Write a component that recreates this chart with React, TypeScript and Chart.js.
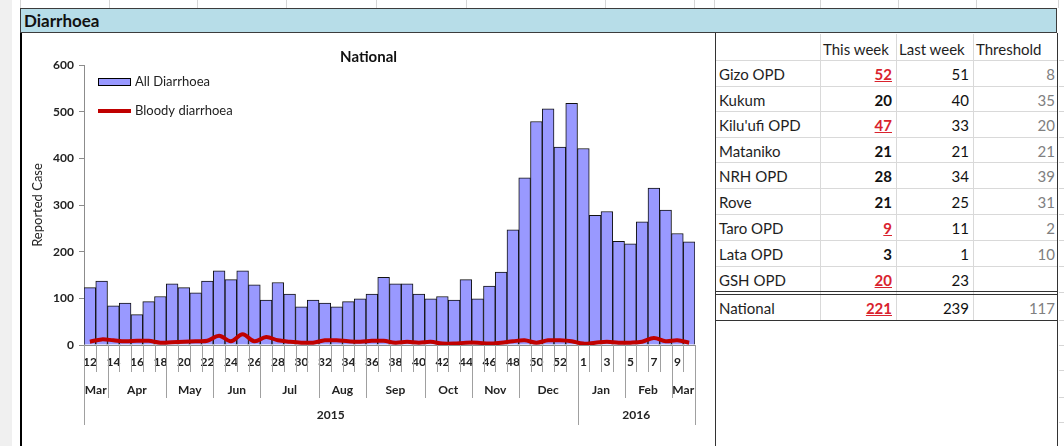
import React, { useEffect, useRef } from 'react';
import { Chart, registerables } from 'chart.js';

Chart.register(...registerables);

// ---------- Chart data ----------
const weekLabels = [
  '12', '13', '14', '15', '16', '17', '18', '19', '20', '21', '22', '23', '24', '25', '26', '27', '28', '29', '30', '31',
  '32', '33', '34', '35', '36', '37', '38', '39', '40', '41', '42', '43', '44', '45', '46', '47', '48', '49', '50', '51',
  '52', '53', '1', '2', '3', '4', '5', '6', '7', '8', '9', '10',
];
const allDiarrhoea = [
  123, 137, 84, 90, 65, 93, 104, 131, 123, 112, 137, 159, 140, 159, 129, 96, 134, 109, 82, 96,
  90, 82, 93, 99, 109, 145, 131, 131, 109, 99, 104, 96, 140, 99, 126, 156, 247, 358, 479, 506,
  424, 518, 421, 278, 286, 222, 217, 264, 336, 289, 239, 221,
];
const bloodyDiarrhoea = [
  7, 12, 10, 8, 9, 9, 5, 6, 7, 8, 9, 20, 8, 23, 8, 17, 10, 7, 5, 5,
  10, 10, 8, 7, 9, 9, 5, 7, 5, 7, 3, 3, 5, 5, 3, 5, 8, 10, 5, 10,
  10, 8, 3, 5, 7, 5, 5, 7, 15, 8, 10, 5,
];
const monthLabels = ['Mar', 'Apr', 'May', 'Jun', 'Jul', 'Aug', 'Sep', 'Oct', 'Nov', 'Dec', 'Jan', 'Feb', 'Mar'];
const monthSpans = [2, 5, 4, 4, 5, 4, 5, 4, 4, 5, 4, 4, 2];
const yearLabels = ['2015', '2016'];
const yearSpans = [42, 10];
const yMax = 600;
const yStep = 100;
const chartTitle = 'National';
const yAxisTitle = 'Reported Case';

// ---------- Table data ----------
const sites = ['Gizo OPD', 'Kukum', "Kilu'ufi OPD", 'Mataniko', 'NRH OPD', 'Rove', 'Taro OPD', 'Lata OPD', 'GSH OPD'];
const thisWeek = [52, 20, 47, 21, 28, 21, 9, 3, 20];
const lastWeek = [51, 40, 33, 21, 34, 25, 11, 1, 23];
const threshold: (number | null)[] = [8, 35, 20, 21, 39, 31, 2, 10, null];
const nationalLabel = 'National';
const nationalThisWeek = 221;
const nationalLastWeek = 239;
const nationalThreshold = 117;
const columnHeaders = ['This week', 'Last week', 'Threshold'];

const FONT = 'Lato, "Open Sans", sans-serif';

const groupAxisPlugin = {
  id: 'groupAxis',
  afterDraw(chart: any) {
    const { ctx, chartArea, scales } = chart;
    const x = scales.x;
    const n = weekLabels.length;
    const step = x.getPixelForValue(1) - x.getPixelForValue(0);
    const edge = (i: number) => x.getPixelForValue(0) + (i - 0.5) * step;
    const base = chartArea.bottom;

    const monthB = new Set<number>([0]);
    let c = 0;
    monthSpans.forEach((s) => { c += s; monthB.add(c); });
    const yearB = new Set<number>([0]);
    c = 0;
    yearSpans.forEach((s) => { c += s; yearB.add(c); });

    ctx.save();
    ctx.strokeStyle = '#a0a0a0';
    ctx.lineWidth = 1;
    for (let i = 0; i <= n; i++) {
      const len = yearB.has(i) ? 80 : monthB.has(i) ? 53 : 27;
      const px = Math.round(edge(i)) + 0.5;
      ctx.beginPath();
      ctx.moveTo(px, base);
      ctx.lineTo(px, base + len);
      ctx.stroke();
    }

    ctx.fillStyle = '#222';
    ctx.textAlign = 'center';
    ctx.textBaseline = 'middle';
    ctx.font = `bold 12px ${FONT}`;
    let s = 0;
    monthLabels.forEach((m, k) => {
      const a = edge(s);
      const b = edge(s + monthSpans[k]);
      ctx.fillText(m, (a + b) / 2, base + 45);
      s += monthSpans[k];
    });
    s = 0;
    yearLabels.forEach((yv, k) => {
      const a = edge(s);
      const b = edge(s + yearSpans[k]);
      ctx.fillText(yv, (a + b) / 2, base + 70);
      s += yearSpans[k];
    });

    // Title
    ctx.font = `bold 15px ${FONT}`;
    ctx.fillStyle = '#111';
    ctx.fillText(chartTitle, chart.width / 2, 24);

    // Legend
    const ds = chart.data.datasets;
    const lx = chartArea.left + 14;
    ctx.fillStyle = '#9999ff';
    ctx.fillRect(lx, 45, 33, 8);
    ctx.strokeStyle = '#000';
    ctx.lineWidth = 1;
    ctx.strokeRect(lx + 0.5, 45.5, 32, 7);
    ctx.strokeStyle = '#c00000';
    ctx.lineWidth = 4;
    ctx.beginPath();
    ctx.moveTo(lx, 78);
    ctx.lineTo(lx + 33, 78);
    ctx.stroke();
    ctx.fillStyle = '#222';
    ctx.textAlign = 'left';
    ctx.font = `13px ${FONT}`;
    ctx.fillText(ds[0].label, lx + 37, 49);
    ctx.fillText(ds[1].label, lx + 37, 78);
    ctx.restore();
  },
};

function NationalChart() {
  const ref = useRef<HTMLCanvasElement | null>(null);
  useEffect(() => {
    if (!ref.current) return;
    const chart = new Chart(ref.current, {
      type: 'bar',
      data: {
        labels: weekLabels,
        datasets: [
          {
            type: 'bar',
            label: 'All Diarrhoea',
            data: allDiarrhoea,
            backgroundColor: '#9999ff',
            borderColor: '#111',
            borderWidth: 1,
            barPercentage: 1,
            categoryPercentage: 1,
            order: 2,
          } as any,
          {
            type: 'line',
            label: 'Bloody diarrhoea',
            data: bloodyDiarrhoea,
            borderColor: '#c00000',
            borderWidth: 4,
            pointRadius: 0,
            tension: 0.35,
            fill: false,
            order: 1,
          } as any,
        ],
      },
      options: {
        responsive: false,
        animation: false,
        devicePixelRatio: 1,
        layout: { padding: { top: 32, right: 20, left: 0, bottom: 0 } },
        plugins: { legend: { display: false }, tooltip: { enabled: false }, title: { display: false } },
        scales: {
          x: {
            type: 'category',
            offset: true,
            grid: { display: false, drawTicks: false, drawOnChartArea: false },
            border: { display: true, color: '#8c8c8c' },
            ticks: {
              autoSkip: false,
              maxRotation: 0,
              minRotation: 0,
              padding: 10,
              color: '#222',
              font: { family: FONT, size: 12, weight: 'bold' },
              callback: (_v: any, i: number) => (i % 2 === 0 ? weekLabels[i] : ''),
            },
            afterFit: (scale: any) => { scale.height = 101; },
          },
          y: {
            min: 0,
            max: yMax,
            grid: { drawOnChartArea: false, drawTicks: true, tickLength: 5, color: '#8c8c8c' },
            border: { display: true, color: '#8c8c8c' },
            ticks: {
              stepSize: yStep,
              padding: 5,
              color: '#222',
              font: { family: FONT, size: 12, weight: 'bold' },
            },
            title: {
              display: true,
              text: yAxisTitle,
              color: '#222',
              font: { family: FONT, size: 13 },
              padding: { top: 8, bottom: 0 },
            },
            afterFit: (scale: any) => { scale.width = 62; },
          },
        },
      } as any,
      plugins: [groupAxisPlugin],
    });
    return () => chart.destroy();
  }, []);
  return <canvas ref={ref} width={693} height={413} style={{ display: 'block', width: 693, height: 413 }} />;
}

const colX = [715, 820, 896, 973, 1058];
const rowY = [33, 60, 86, 111, 137, 162, 188, 214, 240, 266, 292];
const RED = '#d9232e';

function Cell(props: { x0: number; x1: number; y0: number; y1: number; align: 'left' | 'right'; style?: any; children: any }) {
  const { x0, x1, y0, y1, align, style, children } = props;
  return (
    <div
      style={{
        position: 'absolute',
        left: x0,
        top: y0,
        width: x1 - x0,
        height: y1 - y0,
        display: 'flex',
        alignItems: 'center',
        justifyContent: align === 'left' ? 'flex-start' : 'flex-end',
        paddingLeft: align === 'left' ? 4 : 0,
        paddingRight: align === 'right' ? 4 : 0,
        boxSizing: 'border-box',
        fontFamily: FONT,
        fontSize: 15,
        color: '#1e1e1e',
        whiteSpace: 'nowrap',
        ...style,
      }}
    >
      {children}
    </div>
  );
}

export default function App() {
  const lines: any[] = [];
  // top strip gridlines
  [20, 109, 197, 286, 376, 466, 605, 694, 714, 820, 898, 976, 1058].forEach((x, i) =>
    lines.push(<div key={'t' + i} style={{ position: 'absolute', left: x, top: 0, width: 1, height: 8, background: '#d6d6d6' }} />)
  );
  // right strip gridlines
  [60, 86, 111, 137, 162, 188, 214, 240, 266, 292, 320, 345, 370, 397, 422].forEach((y, i) =>
    lines.push(<div key={'r' + i} style={{ position: 'absolute', left: 1059, top: y, width: 5, height: 1, background: '#d6d6d6' }} />)
  );
  // table horizontal gridlines
  rowY.slice(1, 10).forEach((y, i) =>
    lines.push(<div key={'h' + i} style={{ position: 'absolute', left: 716, top: y, width: 342, height: 1, background: '#d9d9d9' }} />)
  );
  // table vertical gridlines
  colX.slice(1, 4).forEach((x, i) =>
    lines.push(<div key={'v' + i} style={{ position: 'absolute', left: x, top: 34, width: 1, height: 286, background: '#d9d9d9' }} />)
  );

  const isAlert = (v: number, t: number | null) => t === null || v > t;

  return (
    <div style={{ position: 'fixed', left: 0, top: 0, width: 1064, height: 446, background: '#fff', overflow: 'hidden' }}>
      <div style={{ position: 'absolute', left: 0, top: 0, width: 12, height: 446, background: '#f0f0f0' }} />
      {lines}
      {/* header bar */}
      <div
        style={{
          position: 'absolute', left: 20, top: 8, width: 1037, height: 25, background: '#b7dde8',
          border: '1px solid #3c3c3c', boxSizing: 'border-box', fontFamily: FONT, fontWeight: 'bold',
          fontSize: 17, color: '#111', display: 'flex', alignItems: 'center', paddingLeft: 3,
        }}
      >
        Diarrhoea
      </div>
      {/* chart box */}
      <div style={{ position: 'absolute', left: 20, top: 33, width: 2, height: 413, background: '#000' }} />
      <div style={{ position: 'absolute', left: 22, top: 33 }}>
        <NationalChart />
      </div>
      {/* table borders */}
      <div style={{ position: 'absolute', left: 715, top: 33, width: 1, height: 413, background: '#333' }} />
      <div style={{ position: 'absolute', left: 1057, top: 33, width: 1, height: 413, background: '#333' }} />
      <div style={{ position: 'absolute', left: 715, top: 291, width: 343, height: 1, background: '#333' }} />
      <div style={{ position: 'absolute', left: 715, top: 294, width: 343, height: 1, background: '#333' }} />
      <div style={{ position: 'absolute', left: 715, top: 320, width: 343, height: 1, background: '#333' }} />
      {/* header row */}
      {columnHeaders.map((h, i) => (
        <Cell key={'ch' + i} x0={colX[i + 1]} x1={colX[i + 2]} y0={36} y1={62} align="left" style={{ paddingLeft: 3 }}>
          {h}
        </Cell>
      ))}
      {sites.map((s, r) => (
        <React.Fragment key={'row' + r}>
          <Cell x0={colX[0]} x1={colX[1]} y0={rowY[r + 1] + 1} y1={rowY[r + 2] + 1} align="left">{s}</Cell>
          <Cell
            x0={colX[1]} x1={colX[2]} y0={rowY[r + 1] + 1} y1={rowY[r + 2] + 1} align="right"
            style={{ fontWeight: 'bold', color: isAlert(thisWeek[r], threshold[r]) ? RED : '#111', textDecoration: isAlert(thisWeek[r], threshold[r]) ? 'underline' : 'none' }}
          >
            {thisWeek[r]}
          </Cell>
          <Cell x0={colX[2]} x1={colX[3]} y0={rowY[r + 1] + 1} y1={rowY[r + 2] + 1} align="right" style={{ color: '#111' }}>
            {lastWeek[r]}
          </Cell>
          <Cell x0={colX[3]} x1={colX[4]} y0={rowY[r + 1] + 1} y1={rowY[r + 2] + 1} align="right" style={{ color: '#808080', paddingRight: 3 }}>
            {threshold[r] === null ? '' : threshold[r]}
          </Cell>
        </React.Fragment>
      ))}
      {/* national row */}
      <Cell x0={colX[0]} x1={colX[1]} y0={295} y1={320} align="left">{nationalLabel}</Cell>
      <Cell
        x0={colX[1]} x1={colX[2]} y0={295} y1={320} align="right"
        style={{ fontWeight: 'bold', color: isAlert(nationalThisWeek, nationalThreshold) ? RED : '#111', textDecoration: 'underline' }}
      >
        {nationalThisWeek}
      </Cell>
      <Cell x0={colX[2]} x1={colX[3]} y0={295} y1={320} align="right" style={{ color: '#111' }}>{nationalLastWeek}</Cell>
      <Cell x0={colX[3]} x1={colX[4]} y0={295} y1={320} align="right" style={{ color: '#808080', paddingRight: 3 }}>{nationalThreshold}</Cell>
    </div>
  );
}
